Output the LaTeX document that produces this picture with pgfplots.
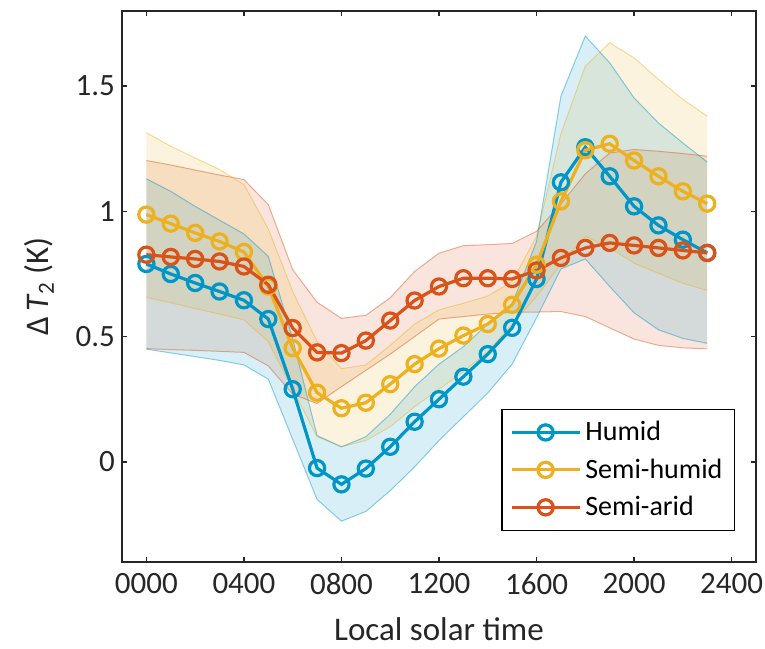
\documentclass[border=0pt]{standalone}
\usepackage{pgfplots}
\pgfplotsset{compat=1.18}
\usepackage{pgfplotstable}
\usepgfplotslibrary{fillbetween}
\usepackage{fontspec}
\setmainfont{Carlito}

\definecolor{cH}{RGB}{0,150,199}
\definecolor{cS}{RGB}{237,177,32}
\definecolor{cA}{RGB}{217,83,25}
\definecolor{axgray}{RGB}{38,38,38}

% t, humid (mean, upper, lower), semi-humid, semi-arid
\pgfplotstableread{
t    hm     hu     hl      sm     su     sl     am     au     al
0    0.790  1.130  0.450   0.987  1.314  0.657  0.827  1.203  0.452
100  0.750  1.080  0.435   0.951  1.260  0.635  0.818  1.185  0.448
200  0.714  1.020  0.420   0.914  1.213  0.612  0.810  1.165  0.445
300  0.680  0.965  0.405   0.880  1.167  0.590  0.800  1.145  0.441
400  0.645  0.910  0.387   0.838  1.107  0.567  0.780  1.127  0.437
500  0.570  0.820  0.330   0.700  0.930  0.480  0.707  1.027  0.383
600  0.290  0.490  0.090   0.454  0.680  0.290  0.534  0.767  0.270
700  -0.025 0.105  -0.150  0.276  0.480  0.100  0.437  0.637  0.233
800  -0.090 0.060  -0.237  0.214  0.372  0.060  0.434  0.573  0.300
900  -0.027 0.100  -0.198  0.236  0.387  0.085  0.484  0.585  0.365
1000 0.060  0.190  -0.115  0.310  0.465  0.140  0.564  0.655  0.430
1100 0.160  0.300  -0.020  0.390  0.550  0.220  0.644  0.760  0.500
1200 0.250  0.390  0.085   0.452  0.607  0.290  0.700  0.833  0.570
1300 0.340  0.460  0.180   0.504  0.633  0.360  0.733  0.863  0.580
1400 0.430  0.550  0.275   0.550  0.662  0.440  0.733  0.867  0.590
1500 0.535  0.630  0.390   0.627  0.720  0.550  0.730  0.872  0.597
1600 0.730  0.880  0.575   0.787  0.900  0.660  0.764  0.920  0.598
1700 1.116  1.460  0.770   1.040  1.310  0.790  0.814  1.030  0.600
1800 1.256  1.700  0.810   1.244  1.580  0.900  0.854  1.150  0.580
1900 1.140  1.593  0.700   1.270  1.673  0.855  0.874  1.233  0.535
2000 1.020  1.453  0.595   1.203  1.613  0.793  0.864  1.247  0.490
2100 0.944  1.353  0.527   1.140  1.527  0.753  0.854  1.240  0.465
2200 0.887  1.273  0.493   1.080  1.447  0.713  0.844  1.231  0.455
2300 0.834  1.197  0.473   1.031  1.380  0.684  0.834  1.220  0.451
}\data

\begin{document}
\begin{tikzpicture}
\begin{axis}[
    scale only axis,
    width=317pt, height=275.5pt,
    xmin=-100, xmax=2500,
    ymin=-0.4, ymax=1.8,
    xtick={0,400,800,1200,1600,2000,2400},
    xticklabels={0000,0400,0800,1200,1600,2000,2400},
    ytick={0,0.5,1,1.5},
    yticklabels={0,0.5,1,1.5},
    tick align=inside,
    major tick length=2.5pt,
    axis line style={draw=axgray, line width=0.75pt},
    tick style={draw=axgray, line width=0.75pt},
    tick label style={font=\fontsize{15.5}{18}\selectfont, text=axgray},
    xticklabel style={yshift=-2pt},
    /pgf/number format/assume math mode=true,
    xlabel={Local solar time},
    ylabel={Δ\,\textit{T}\textsubscript{2} (K)},
    label style={font=\fontsize{16.5}{19}\selectfont, text=axgray},
    xlabel style={yshift=-4.5pt},
    ylabel style={yshift=4pt},
    legend style={at={(0.967,0.056)}, anchor=south east, draw=black,
        line width=0.6pt, font=\fontsize{14}{16}\selectfont,
        row sep=3.5pt, inner xsep=4pt, inner ysep=4pt},
    legend cell align=left,
    legend image code/.code={
        \draw[mark repeat=2, mark phase=2] plot coordinates {(0cm,0cm) (0.6cm,0cm) (1.2cm,0cm)};
    },
]
% bands
\addplot[draw=cA, draw opacity=0.45, line width=0.5pt, name path=au, forget plot] table[x=t, y=au]{\data};
\addplot[draw=cA, draw opacity=0.45, line width=0.5pt, name path=al, forget plot] table[x=t, y=al]{\data};
\addplot[fill=cA, fill opacity=0.15, draw=none, forget plot] fill between[of=au and al];

\addplot[draw=cS, draw opacity=0.45, line width=0.5pt, name path=su, forget plot] table[x=t, y=su]{\data};
\addplot[draw=cS, draw opacity=0.45, line width=0.5pt, name path=sl, forget plot] table[x=t, y=sl]{\data};
\addplot[fill=cS, fill opacity=0.15, draw=none, forget plot] fill between[of=su and sl];

\addplot[draw=cH, draw opacity=0.45, line width=0.5pt, name path=hu, forget plot] table[x=t, y=hu]{\data};
\addplot[draw=cH, draw opacity=0.45, line width=0.5pt, name path=hl, forget plot] table[x=t, y=hl]{\data};
\addplot[fill=cH, fill opacity=0.15, draw=none, forget plot] fill between[of=hu and hl];

% means
\addplot[color=cH, line width=1.6pt, mark=o, mark size=3.8pt, mark options={line width=1.6pt}] table[x=t, y=hm]{\data};
\addlegendentry{Humid}
\addplot[color=cS, line width=1.6pt, mark=o, mark size=3.8pt, mark options={line width=1.6pt}] table[x=t, y=sm]{\data};
\addlegendentry{Semi-humid}
\addplot[color=cA, line width=1.6pt, mark=o, mark size=3.8pt, mark options={line width=1.6pt}] table[x=t, y=am]{\data};
\addlegendentry{Semi-arid}
\end{axis}
\pgfresetboundingbox
\path ([xshift=-61pt,yshift=-43pt]current axis.south west) rectangle ([xshift=4.5pt,yshift=5.5pt]current axis.north east);
\end{tikzpicture}
\end{document}
